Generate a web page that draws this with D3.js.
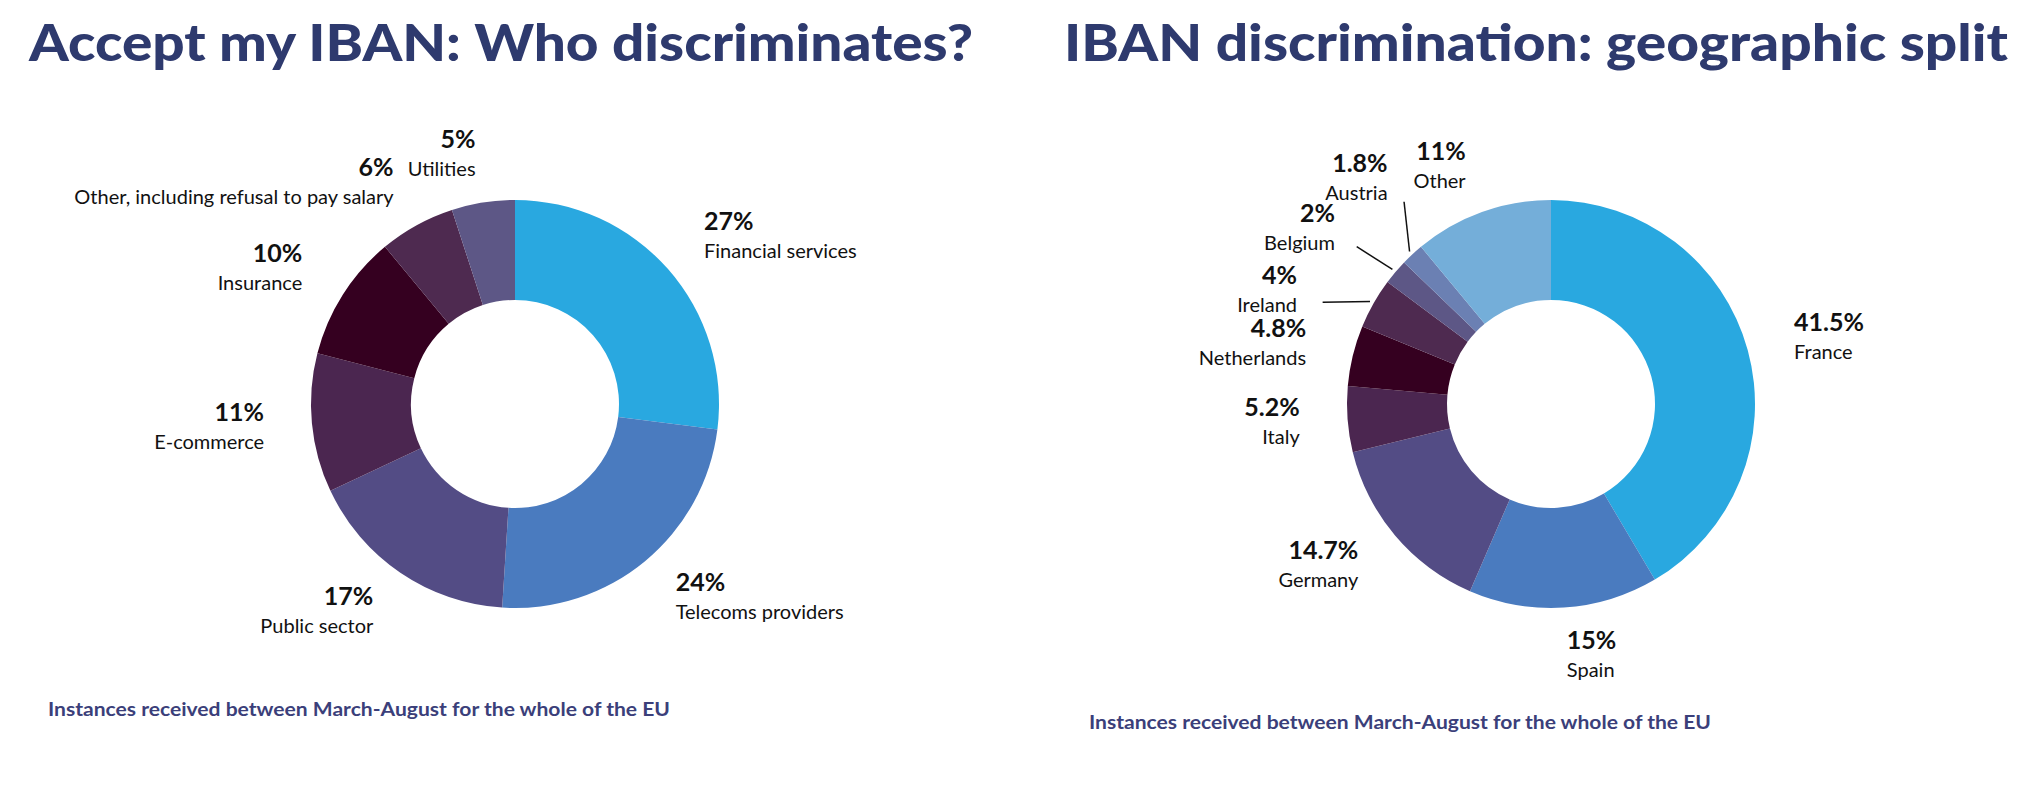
<!DOCTYPE html>
<html>
<head>
<meta charset="utf-8">
<script src="https://cdn.jsdelivr.net/npm/d3@7"></script>
<style>
  body { margin: 0; background: #fff; }
  svg text { font-family: Lato, "Open Sans", sans-serif; }
</style>
</head>
<body>
<svg id="chart" width="2020" height="788"></svg>
<script>
// sector split
const sectorNames = ['Financial services', 'Telecoms providers', 'Public sector', 'E-commerce',
  'Insurance', 'Other, including refusal to pay salary', 'Utilities'];
const sectorValues = [27, 24, 17, 11, 10, 6, 5];
const sectorLabels = ['27%', '24%', '17%', '11%', '10%', '6%', '5%'];
const sectorColors = ['#29a8e0', '#4a7bbf', '#534c85', '#4b2650', '#350020', '#4e2a50', '#5d5786'];

// country split
const countryNames = ['France', 'Spain', 'Germany', 'Italy', 'Netherlands', 'Ireland', 'Belgium', 'Austria', 'Other'];
const countryValues = [41.5, 15, 14.7, 5.2, 4.8, 4, 2, 1.8, 11];
const countryLabels = ['41.5%', '15%', '14.7%', '5.2%', '4.8%', '4%', '2%', '1.8%', '11%'];
const countryColors = ['#29a8e0', '#4a7bbf', '#534c85', '#4b2650', '#350020', '#4e2a50', '#5d5786', '#6b80b3', '#74aed9'];

const svg = d3.select('#chart');
const navy = '#2e3a6e';

function donut(cfg) {
  const g = svg.append('g').attr('transform', `translate(${cfg.cx}, ${cfg.cy})`);
  const rows = cfg.names.map((n, i) => ({name: n, value: cfg.values[i], label: cfg.labels[i], color: cfg.colors[i]}));
  const pie = d3.pie().sort(null).value((d) => d.value);
  const arcs = pie(rows);
  const arc = d3.arc().innerRadius(104).outerRadius(204);

  g.selectAll('path.slice').data(arcs).enter().append('path')
    .attr('class', 'slice')
    .attr('d', arc)
    .attr('fill', (d) => d.data.color);

  const small = (d) => d.data.value <= 4;
  arcs.forEach((d) => { d.mid = (d.startAngle + d.endAngle) / 2; d.labAngle = d.mid; });

  // spread labels of thin slices so they don't collide
  const thin = arcs.filter(small);
  if (thin.length) {
    const gap = 15 * Math.PI / 180;
    const mean = d3.mean(thin, (d) => d.mid);
    thin.forEach((d, i) => { d.labAngle = mean + (i - (thin.length - 1) / 2) * gap; });
  }
  const pt = (a, r) => [Math.sin(a) * r, -Math.cos(a) * r];

  g.selectAll('line.leader').data(thin).enter().append('line')
    .attr('class', 'leader')
    .attr('x1', (d) => pt(d.mid, 208)[0]).attr('y1', (d) => pt(d.mid, 208)[1])
    .attr('x2', (d) => pt(d.labAngle, 250)[0]).attr('y2', (d) => pt(d.labAngle, 250)[1])
    .attr('stroke', '#111').attr('stroke-width', 1.5);

  const lab = g.selectAll('g.lab').data(arcs).enter().append('g')
    .attr('class', 'lab')
    .attr('transform', (d) => {
      const p = pt(d.labAngle, small(d) ? 278 : 252);
      return `translate(${p[0]}, ${p[1]})`;
    });
  const anchor = (d) => Math.sin(d.labAngle) >= 0.05 ? 'start' : 'end';
  lab.append('text')
    .attr('y', -7)
    .attr('text-anchor', anchor)
    .attr('font-size', 25).attr('font-weight', 700).attr('fill', '#111')
    .text((d) => d.data.label);
  lab.append('text')
    .attr('y', 21)
    .attr('text-anchor', anchor)
    .attr('font-size', 20).attr('fill', '#111')
    .text((d) => d.data.name);

  svg.append('text')
    .attr('x', cfg.tx).attr('y', 61)
    .attr('font-size', 52).attr('font-weight', 900).attr('fill', navy)
    .attr('textLength', cfg.tw).attr('lengthAdjust', 'spacingAndGlyphs')
    .text(cfg.title);
  svg.append('text')
    .attr('x', cfg.sx).attr('y', cfg.sy)
    .attr('font-size', 19).attr('font-weight', 700).attr('fill', '#3b3f7a')
    .attr('textLength', 622).attr('lengthAdjust', 'spacingAndGlyphs')
    .text('Instances received between March-August for the whole of the EU');
}

donut({cx: 515, cy: 404, names: sectorNames, values: sectorValues, labels: sectorLabels, colors: sectorColors,
  title: 'Accept my IBAN: Who discriminates?', tx: 29, tw: 944, sx: 48, sy: 716});
donut({cx: 1551, cy: 404, names: countryNames, values: countryValues, labels: countryLabels, colors: countryColors,
  title: 'IBAN discrimination: geographic split', tx: 1064, tw: 944, sx: 1089, sy: 729});
</script>
</body>
</html>
